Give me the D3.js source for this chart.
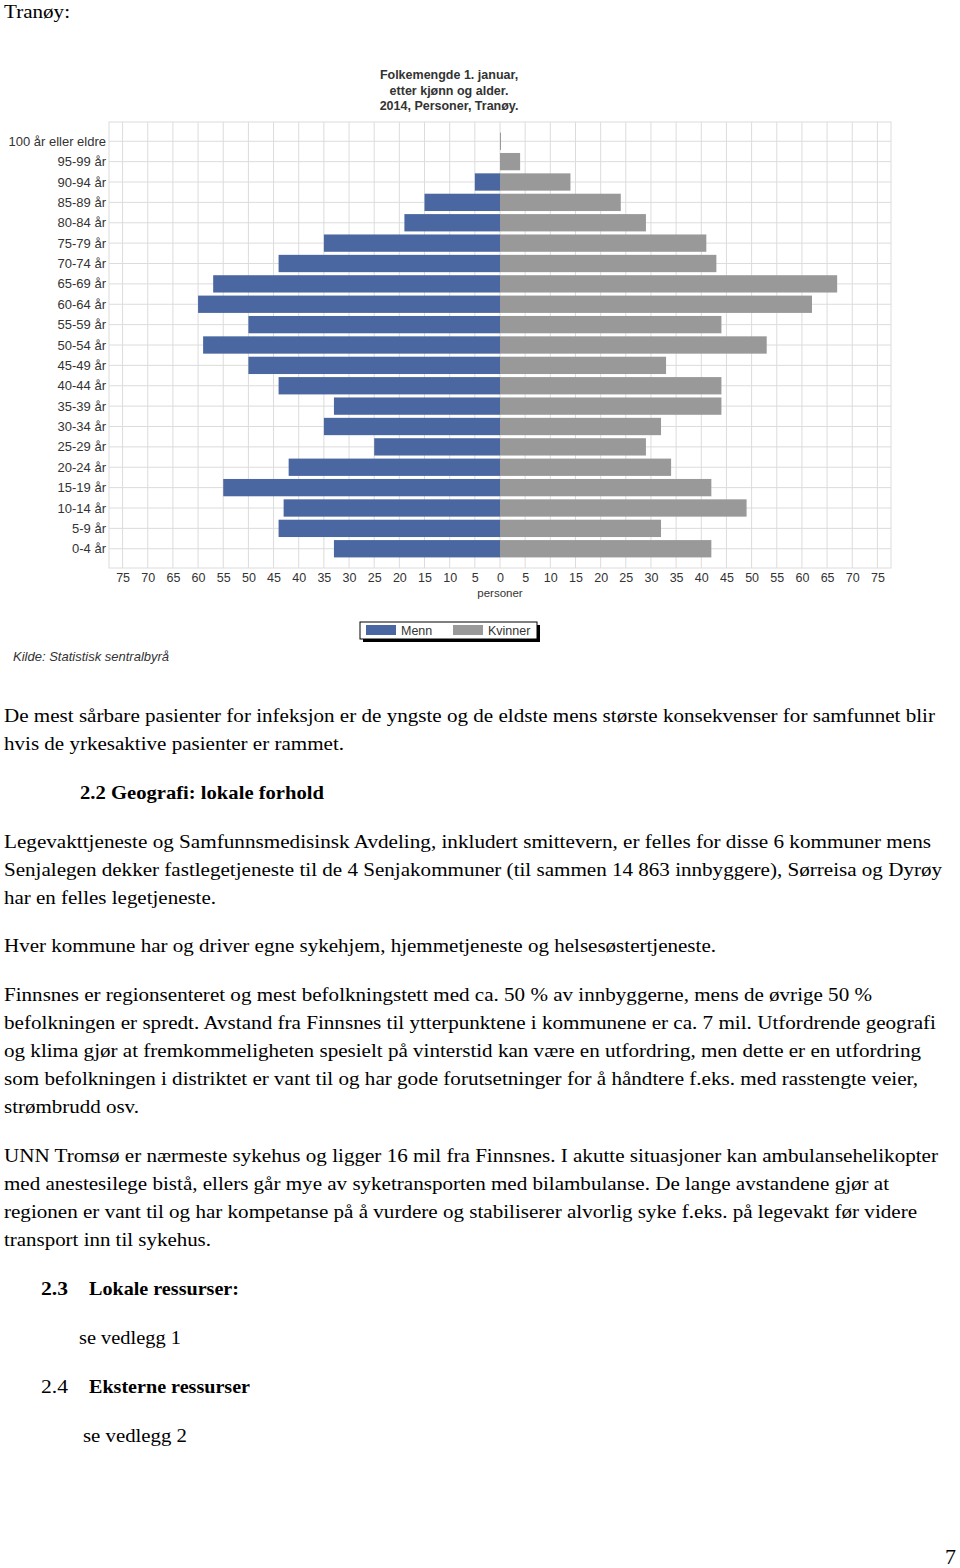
<!DOCTYPE html>
<html>
<head>
<meta charset="utf-8">
<script src="https://cdn.jsdelivr.net/npm/d3@7"></script>
<style>
  body { margin: 0; background: #fff; }
  svg { display: block; }
  .chart text { font-family: "Liberation Sans", Arial, sans-serif; fill: #333; }
  .page text { font-family: "Liberation Serif", "Times New Roman", serif; fill: #000; font-size: 19px; }
</style>
</head>
<body>
<svg id="page" width="960" height="1568"></svg>
<script>
const ageGroups = ["100 år eller eldre", "95-99 år", "90-94 år", "85-89 år", "80-84 år", "75-79 år",
    "70-74 år", "65-69 år", "60-64 år", "55-59 år", "50-54 år", "45-49 år", "40-44 år", "35-39 år",
    "30-34 år", "25-29 år", "20-24 år", "15-19 år", "10-14 år", "5-9 år", "0-4 år"];
const menn = [0, 0, 5, 15, 19, 35, 44, 57, 60, 50, 59, 50, 44, 33, 35, 25, 42, 55, 43, 44, 33];
const kvinner = [0, 4, 14, 24, 29, 41, 43, 67, 62, 44, 53, 33, 44, 44, 32, 29, 34, 42, 49, 32, 42];
const tickValues = d3.range(-75, 76, 5);
const titleLines = ["Folkemengde 1. januar,", "etter kjønn og alder.", "2014, Personer, Tranøy."];
const seriesNames = ["Menn", "Kvinner"];

const blue = "#4b67a1";
const grey = "#999999";

const svg = d3.select("#page");

// ---- chart ----
const chart = svg.append("g").attr("class", "chart");

const plot = { left: 109, right: 891, top: 122, bottom: 568 };

const xScale = d3.scaleLinear()
    .domain([-77.7, 77.7])
    .range([plot.left, plot.right]);

const yScale = d3.scaleBand()
    .domain(ageGroups)
    .range([plot.top, plot.bottom])
    .paddingInner(0.15)
    .paddingOuter(0.52);

// grid
chart.append("rect")
    .attr("x", plot.left).attr("y", plot.top)
    .attr("width", plot.right - plot.left).attr("height", plot.bottom - plot.top)
    .attr("fill", "none").attr("stroke", "#dcdcdc");

chart.append("g").selectAll("line").data(tickValues)
    .enter().append("line")
    .attr("x1", d => xScale(d)).attr("x2", d => xScale(d))
    .attr("y1", plot.top).attr("y2", plot.bottom)
    .attr("stroke", "#dcdcdc");

chart.append("g").selectAll("line").data(ageGroups)
    .enter().append("line")
    .attr("x1", plot.left).attr("x2", plot.right)
    .attr("y1", d => yScale(d) + yScale.bandwidth() / 2)
    .attr("y2", d => yScale(d) + yScale.bandwidth() / 2)
    .attr("stroke", "#dcdcdc");

// bars
chart.append("g").selectAll("rect").data(menn)
    .enter().append("rect")
    .attr("x", d => xScale(-d))
    .attr("y", (d, i) => yScale(ageGroups[i]))
    .attr("width", d => xScale(0) - xScale(-d))
    .attr("height", yScale.bandwidth())
    .attr("fill", blue);

chart.append("g").selectAll("rect").data(kvinner)
    .enter().append("rect")
    .attr("x", xScale(0))
    .attr("y", (d, i) => yScale(ageGroups[i]))
    .attr("width", d => Math.max(1, xScale(d) - xScale(0)))
    .attr("height", yScale.bandwidth())
    .attr("fill", grey);

// y labels
chart.append("g").selectAll("text").data(ageGroups)
    .enter().append("text")
    .attr("x", plot.left - 3)
    .attr("y", d => yScale(d) + yScale.bandwidth() / 2)
    .attr("dy", "0.35em")
    .attr("text-anchor", "end")
    .style("font-size", "13px")
    .text(d => d);

// x axis
const xAxis = d3.axisBottom(xScale)
    .tickValues(tickValues)
    .tickSize(0)
    .tickPadding(5)
    .tickFormat(d => Math.abs(d));

const xAxisG = chart.append("g")
    .attr("transform", `translate(0,${plot.bottom})`)
    .call(xAxis);
xAxisG.select(".domain").remove();
xAxisG.selectAll("text")
    .attr("fill", "#333")
    .style("font-size", "12.5px")
    .style("font-family", "'Liberation Sans', Arial, sans-serif");

chart.append("text")
    .attr("x", xScale(0))
    .attr("y", 597)
    .attr("text-anchor", "middle")
    .style("font-size", "11.5px")
    .text("personer");

// title
chart.append("g").selectAll("text").data(titleLines)
    .enter().append("text")
    .attr("x", 449)
    .attr("y", (d, i) => 79 + i * 15.5)
    .attr("text-anchor", "middle")
    .style("font-size", "12.5px")
    .style("font-weight", "bold")
    .attr("fill", "#222")
    .text(d => d);

// legend
const legend = chart.append("g").attr("transform", "translate(360,622)");
legend.append("rect")
    .attr("x", 3).attr("y", 3).attr("width", 177).attr("height", 17)
    .attr("fill", "#000");
legend.append("rect")
    .attr("x", 0).attr("y", 0).attr("width", 177).attr("height", 17)
    .attr("fill", "#fff").attr("stroke", "#000");

const legendItems = legend.selectAll("g.item").data(seriesNames)
    .enter().append("g")
    .attr("class", "item")
    .attr("transform", (d, i) => `translate(${6 + i * 87},3)`);
legendItems.append("rect")
    .attr("width", 30).attr("height", 10)
    .attr("fill", (d, i) => i === 0 ? blue : grey);
legendItems.append("text")
    .attr("x", 35).attr("y", 10)
    .style("font-size", "12.5px")
    .text(d => d);

chart.append("text")
    .attr("x", 13).attr("y", 661)
    .style("font-size", "13px")
    .style("font-style", "italic")
    .text("Kilde: Statistisk sentralbyrå");

// ---- page text ----
const page = svg.append("g").attr("class", "page");

const pageLines = [
    { y: 12, x: 4, w: 66, t: "Tranøy:" },
    { y: 716, x: 4, w: 931, t: "De mest sårbare pasienter for infeksjon er de yngste og de eldste mens største konsekvenser for samfunnet blir" },
    { y: 744, x: 4, w: 340, t: "hvis de yrkesaktive pasienter er rammet." },
    { y: 793, x: 80, w: 244, t: "2.2 Geografi: lokale forhold", b: true },
    { y: 842, x: 4, w: 927, t: "Legevakttjeneste og Samfunnsmedisinsk Avdeling, inkludert smittevern, er felles for disse 6 kommuner mens" },
    { y: 870, x: 4, w: 938, t: "Senjalegen dekker fastlegetjeneste til de 4 Senjakommuner (til sammen 14 863 innbyggere), Sørreisa og Dyrøy" },
    { y: 898, x: 4, w: 212, t: "har en felles legetjeneste." },
    { y: 946, x: 4, w: 712, t: "Hver kommune har og driver egne sykehjem, hjemmetjeneste og helsesøstertjeneste." },
    { y: 995, x: 4, w: 868, t: "Finnsnes er regionsenteret og mest befolkningstett med ca. 50 % av innbyggerne, mens de øvrige 50 %" },
    { y: 1023, x: 4, w: 932, t: "befolkningen er spredt. Avstand fra Finnsnes til ytterpunktene i kommunene er ca. 7 mil. Utfordrende geografi" },
    { y: 1051, x: 4, w: 917, t: "og klima gjør at fremkommeligheten spesielt på vinterstid kan være en utfordring, men dette er en utfordring" },
    { y: 1079, x: 4, w: 914, t: "som befolkningen i distriktet er vant til og har gode forutsetninger for å håndtere f.eks. med rasstengte veier," },
    { y: 1107, x: 4, w: 135, t: "strømbrudd osv." },
    { y: 1156, x: 4, w: 934, t: "UNN Tromsø er nærmeste sykehus og ligger 16 mil fra Finnsnes. I akutte situasjoner kan ambulansehelikopter" },
    { y: 1184, x: 4, w: 885, t: "med anestesilege bistå, ellers går mye av syketransporten med bilambulanse. De lange avstandene gjør at" },
    { y: 1212, x: 4, w: 913, t: "regionen er vant til og har kompetanse på å vurdere og stabiliserer alvorlig syke f.eks. på legevakt før videre" },
    { y: 1240, x: 4, w: 207, t: "transport inn til sykehus." },
    { y: 1289, x: 41, w: 27, t: "2.3", b: true },
    { y: 1289, x: 89, w: 150, t: "Lokale ressurser:", b: true },
    { y: 1338, x: 79, w: 102, t: "se vedlegg 1" },
    { y: 1387, x: 41, w: 27, t: "2.4" },
    { y: 1387, x: 89, w: 161, t: "Eksterne ressurser", b: true },
    { y: 1436, x: 83, w: 104, t: "se vedlegg 2" }
];

page.selectAll("text").data(pageLines)
    .enter().append("text")
    .attr("x", d => d.x)
    .attr("y", d => d.y + 6)
    .attr("textLength", d => d.w)
    .attr("lengthAdjust", "spacingAndGlyphs")
    .style("font-weight", d => d.b ? "bold" : "normal")
    .text(d => d.t);

page.append("text")
    .attr("x", 945).attr("y", 1564)
    .style("font-size", "22px")
    .text("7");
</script>
</body>
</html>
